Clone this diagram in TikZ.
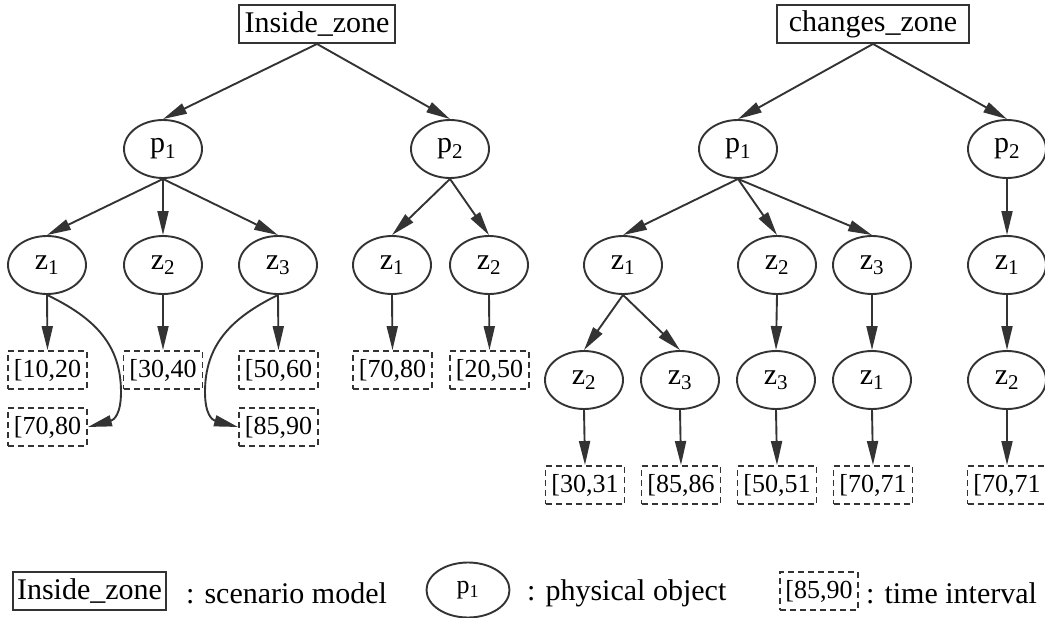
\documentclass[tikz,border=0pt]{standalone}
\usepackage{fontspec}
\setmainfont{Liberation Serif}
\usetikzlibrary{shapes.geometric,arrows.meta}
\definecolor{ln}{HTML}{333333}
\tikzset{
  zone/.style={rectangle,draw=ln,line width=1.9pt,inner sep=1pt,minimum height=38pt,font=\fontsize{30}{34}\selectfont},
  obj/.style={ellipse,draw=ln,line width=1.9pt,inner sep=0pt,minimum width=78pt,minimum height=58pt,font=\fontsize{30}{34}\selectfont},
  ivl/.style={rectangle,draw=ln,line width=1.9pt,dash pattern=on 6pt off 4pt,inner sep=0pt,minimum width=79pt,minimum height=38pt,font=\fontsize{26}{30}\selectfont},
  arr/.style={draw=ln,line width=1.9pt,-{Triangle[length=24pt,width=11pt]}},
  lgtext/.style={anchor=west,inner sep=0pt,font=\fontsize{30}{34}\selectfont},
}
\newcommand{\subn}[1]{\textsubscript{#1}}
\begin{document}
\begin{tikzpicture}[x=1pt,y=-1pt]
\useasboundingbox (0,0) rectangle (1045,618);
% ---------- left tree
\node[zone,minimum width=156pt] (lroot) at (317,24) {Inside\_zone};
\node[obj] (lp1) at (163,149) {p\subn{1}};
\node[obj] (lp2) at (450,149) {p\subn{2}};
\node[obj] (lz1) at (47,265) {z\subn{1}};
\node[obj] (lz2) at (163,265) {z\subn{2}};
\node[obj] (lz3) at (278,265) {z\subn{3}};
\node[obj] (lqz1) at (392,265) {z\subn{1}};
\node[obj] (lqz2) at (489,265) {z\subn{2}};
\node[ivl] (b1020) at (47.5,370) {[10,20};
\node[ivl] (b3040) at (163,370) {[30,40};
\node[ivl] (b5060) at (278.5,370) {[50,60};
\node[ivl] (b7080a) at (392.5,370) {[70,80};
\node[ivl] (b2050) at (489.5,370) {[20,50};
\node[ivl] (b7080) at (47.5,427) {[70,80};
\node[ivl] (b8590) at (278.5,427) {[85,90};
\draw[arr] (lroot.south) -- (lp1.north);
\draw[arr] (lroot.south) -- (lp2.north);
\draw[arr] (lp1.south) -- (lz1.north);
\draw[arr] (lp1.south) -- (lz2.north);
\draw[arr] (lp1.south) -- (lz3.north);
\draw[arr] (lp2.south) -- (lqz1.north);
\draw[arr] (lp2.south) -- (lqz2.north);
\draw[arr] (lz1.south) -- (b1020.north);
\draw[arr] (lz2.south) -- (b3040.north);
\draw[arr] (lz3.south) -- (b5060.north);
\draw[arr] (lqz1.south) -- (b7080a.north);
\draw[arr] (lqz2.south) -- (b2050.north);
\draw[arr] (lz1.south) .. controls (95,318) and (121,345) .. (121,392) .. controls (121,414) and (114,420) .. (b7080.east);
\draw[arr] (lz3.south) .. controls (231,318) and (205,345) .. (205,392) .. controls (205,414) and (212,420) .. (b8590.west);
% ---------- right tree
\node[zone,minimum width=192pt] (rroot) at (873,24) {changes\_zone};
\node[obj] (rp1) at (738,149) {p\subn{1}};
\node[obj] (rp2) at (1007,149) {p\subn{2}};
\node[obj] (rz1) at (623,265) {z\subn{1}};
\node[obj] (rz2) at (777,265) {z\subn{2}};
\node[obj] (rz3) at (872,265) {z\subn{3}};
\node[obj] (rqz1) at (1007,265) {z\subn{1}};
\node[obj] (ra2) at (584,380) {z\subn{2}};
\node[obj] (ra3) at (680,380) {z\subn{3}};
\node[obj] (rb3) at (776,380) {z\subn{3}};
\node[obj] (rc1) at (872,380) {z\subn{1}};
\node[obj] (rq2) at (1007,380) {z\subn{2}};
\node[ivl] (c3031) at (585,485) {[30,31};
\node[ivl] (c8586) at (681,485) {[85,86};
\node[ivl] (c5051) at (777,485) {[50,51};
\node[ivl] (c7071) at (873,485) {[70,71};
\node[ivl] (c7071b) at (1007,485) {[70,71};
\draw[arr] (rroot.south) -- (rp1.north);
\draw[arr] (rroot.south) -- (rp2.north);
\draw[arr] (rp1.south) -- (rz1.north);
\draw[arr] (rp1.south) -- (rz2.north);
\draw[arr] (rp1.south) -- (rz3.north);
\draw[arr] (rp2.south) -- (rqz1.north);
\draw[arr] (rz1.south) -- (ra2.north);
\draw[arr] (rz1.south) -- (ra3.north);
\draw[arr] (rz2.south) -- (rb3.north);
\draw[arr] (rz3.south) -- (rc1.north);
\draw[arr] (rqz1.south) -- (rq2.north);
\draw[arr] (ra2.south) -- (c3031.north);
\draw[arr] (ra3.south) -- (c8586.north);
\draw[arr] (rb3.south) -- (c5051.north);
\draw[arr] (rc1.south) -- (c7071.north);
\draw[arr] (rq2.south) -- (c7071b.north);
% ---------- legend
\node[zone,minimum width=153pt] (lgzone) at (89.5,591) {Inside\_zone};
\node[lgtext] (lgt1) at (186,593) {: scenario model};
\node[obj,minimum width=83pt,minimum height=55pt,font=\fontsize{26}{30}\selectfont] (lgobj) at (468,590) {p\subn{1}};
\node[lgtext] (lgt2) at (527,593) {: physical object};
\node[ivl,minimum width=78pt] (lgivl) at (819,591) {[85,90};
\node[lgtext] (lgt3) at (866,593) {: time interval};
\end{tikzpicture}
\end{document}
